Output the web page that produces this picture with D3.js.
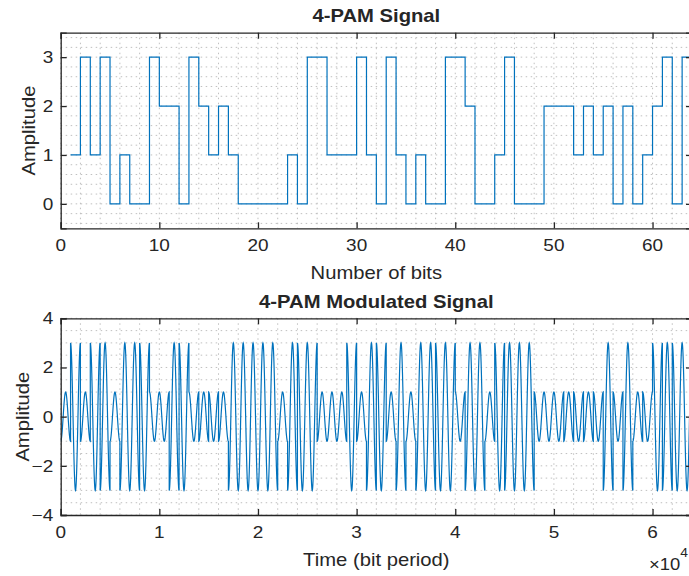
<!DOCTYPE html>
<html><head><meta charset="utf-8">
<script src="https://cdn.jsdelivr.net/npm/d3@7"></script>
<style>
html,body{margin:0;padding:0;background:#fff;}
svg{display:block;}
text{font-family:"Liberation Sans",Arial,Helvetica,sans-serif;fill:#262626;}
</style></head>
<body>
<svg id="c" width="689" height="576"></svg>
<script>
// ---- data ----
// 4-PAM symbol levels, plotted at bit positions 1..64
const symbols = [1,3,1,3,0,1,0,0,3,2,2,0,3,2,1,2,1,0,0,0,0,0,1,0,3,3,1,1,1,3,1,0,3,1,0,1,0,0,3,3,2,0,0,1,3,0,0,0,2,2,2,1,2,1,2,0,2,0,1,2,3,0,3,3];
const pamLevels = [-3,-1,1,3];          // amplitude for symbols 0..3
const samplesPerBit = 1000;             // bottom time axis in samples
const carrierCyclesPerBit = 1;
const topXTicks = [0,10,20,30,40,50,60];
const topYTicks = [0,1,2,3];
const botXTicks = [0,10000,20000,30000,40000,50000,60000];
const botXTickLabels = ["0","1","2","3","4","5","6"];
const botYTicks = [-4,-2,0,2,4];

const svg = d3.select("#c");
const SX = 1.15; // horizontal text stretch
const L = 60.7, R = 692;
const lineColor = "#0072BD", axisColor = "#262626", gridColor = "#b0b0b0";

function htext(g, x, y, str, opts){
  const t = g.append("text")
    .attr("transform", `translate(${x},${y}) scale(${SX},1)`)
    .attr("text-anchor", opts.anchor || "middle")
    .style("font-size", (opts.size||16)+"px")
    .style("font-weight", opts.bold ? "bold" : "normal")
    .text(str);
  return t;
}

function panel(cfg){
  const g = svg.append("g");
  const x = d3.scaleLinear().domain(cfg.xDomain).range([L, R]);
  const y = d3.scaleLinear().domain(cfg.yDomain).range([cfg.bottom, cfg.top]);
  const clipId = "clip" + cfg.id;
  svg.append("clipPath").attr("id", clipId).append("rect")
    .attr("x", L).attr("y", cfg.top).attr("width", R-L).attr("height", cfg.bottom-cfg.top);
  // grid (major + minor)
  const grid = g.append("g").attr("stroke", gridColor).attr("stroke-width", 0.8).attr("stroke-dasharray", "1.5,3.5");
  d3.range(cfg.xDomain[0], cfg.xDomain[1] + 1e-9, cfg.xMinor).forEach(v => {
    grid.append("line").attr("x1", x(v)).attr("x2", x(v)).attr("y1", cfg.top).attr("y2", cfg.bottom);
  });
  const y0 = Math.ceil(cfg.yDomain[0]/cfg.yMinor)*cfg.yMinor;
  d3.range(y0, cfg.yDomain[1] + 1e-9, cfg.yMinor).forEach(v => {
    grid.append("line").attr("y1", y(v)).attr("y2", y(v)).attr("x1", L).attr("x2", R);
  });
  // data line
  g.append("path").attr("clip-path", `url(#${clipId})`)
    .attr("d", cfg.line(x, y)).attr("fill", "none")
    .attr("stroke", lineColor).attr("stroke-width", 1.2);
  // axes with inward ticks on all sides
  const tl = 6;
  const ax = g.append("g");
  ax.append("g").attr("transform", `translate(0,${cfg.bottom})`)
    .call(d3.axisBottom(x).tickValues(cfg.xTicks).tickSize(-tl).tickFormat(""));
  ax.append("g").attr("transform", `translate(0,${cfg.top})`)
    .call(d3.axisTop(x).tickValues(cfg.xTicks).tickSize(-tl).tickFormat(""));
  ax.append("g").attr("transform", `translate(${L},0)`)
    .call(d3.axisLeft(y).tickValues(cfg.yTicks).tickSize(-tl).tickFormat(""));
  ax.append("g").attr("transform", `translate(${R},0)`)
    .call(d3.axisRight(y).tickValues(cfg.yTicks).tickSize(-tl).tickFormat(""));
  ax.selectAll(".domain").attr("stroke", axisColor).attr("stroke-width", 1.3);
  ax.selectAll(".tick line").attr("stroke", axisColor).attr("stroke-width", 1.3);
  // tick labels
  cfg.xTicks.forEach((v,i) => htext(g, x(v), cfg.bottom + 22.5, cfg.xLabels ? cfg.xLabels[i] : String(v), {size:16.5}));
  cfg.yTicks.forEach(v => htext(g, L - 7.5, y(v) + 5.9, String(v).replace("-", "\u2212"), {size:16.5, anchor:"end"}));
  // title & labels
  htext(g, (L+R)/2, cfg.top - 10.5, cfg.title, {size:17.6, bold:true});
  htext(g, (L+R)/2, cfg.bottom + 51, cfg.xTitle, {size:17.6});
  g.append("text")
    .attr("transform", `translate(${cfg.yTitleX},${(cfg.top+cfg.bottom)/2}) rotate(-90) scale(${SX},1)`)
    .attr("text-anchor", "middle").style("font-size", "17.6px").text("Amplitude");
  return {g, x, y};
}

// top: stairs
panel({
  id: "top", top: 32.7, bottom: 228.3,
  xDomain: [0, 64], yDomain: [-0.5, 3.5],
  xMinor: 2, yMinor: 0.2,
  xTicks: topXTicks, yTicks: topYTicks,
  title: "4-PAM Signal", xTitle: "Number of bits", yTitleX: 35,
  line: (x, y) => {
    const pts = [];
    symbols.forEach((s, i) => {
      const xi = i + 1;
      if (i > 0) pts.push([xi, symbols[i-1]]);
      pts.push([xi, s]);
    });
    return d3.line().x(d => x(d[0])).y(d => y(d[1]))(pts);
  }
});

// bottom: modulated
const bot = panel({
  id: "bot", top: 318.3, bottom: 515,
  xDomain: [0, 64000], yDomain: [-4, 4],
  xMinor: 2000, yMinor: 0.5,
  xTicks: botXTicks, xLabels: botXTickLabels, yTicks: botYTicks,
  title: "4-PAM Modulated Signal", xTitle: "Time (bit period)", yTitleX: 29,
  line: (x, y) => {
    const pts = [];
    const n = 60;
    symbols.forEach((s, b) => {
      const A = pamLevels[s];
      for (let j = 0; j <= n; j++) {
        const f = j / n;
        pts.push([(b + f) * samplesPerBit, A * Math.cos(2 * Math.PI * carrierCyclesPerBit * f)]);
      }
    });
    return d3.line().x(d => x(d[0])).y(d => y(d[1]))(pts);
  }
});

// exponent label
const ex = svg.append("text")
  .attr("transform", `translate(${R - 4},570) scale(${SX},1)`)
  .attr("text-anchor", "end").style("font-size", "16px");
ex.append("tspan").text("\u00d710");
ex.append("tspan").attr("dy", -13).style("font-size", "12px").text("4");
</script>
</body></html>
